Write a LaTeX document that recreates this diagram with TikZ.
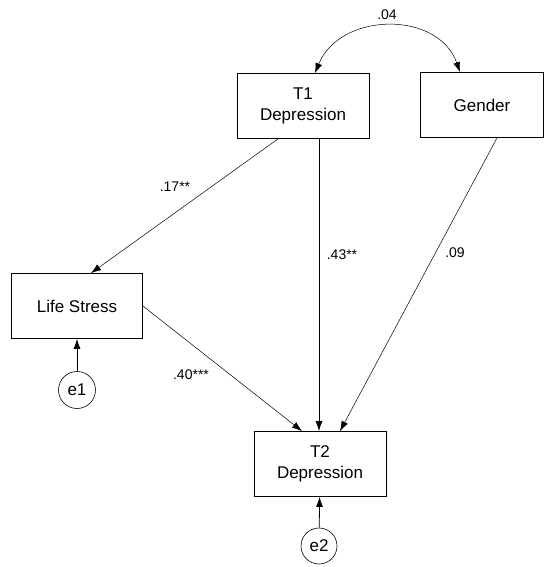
\documentclass[tikz,border=0pt]{standalone}
\usepackage{fontspec}
\setmainfont{Liberation Sans}
\usetikzlibrary{arrows.meta}
\begin{document}
\begin{tikzpicture}[x=1pt,y=-1pt]
	\tikzset{>={Latex[length=10pt,width=7pt]}}
	\tikzset{var/.style={draw,line width=0.8pt,align=center,minimum width=132pt,minimum height=65pt,inner sep=0pt,font=\fontsize{17}{21}\selectfont},
		err/.style={draw,circle,line width=0.6pt,minimum size=37pt,inner sep=0pt,font=\fontsize{17}{21}\selectfont},
		path/.style={->,line width=0.5pt},
		coef/.style={font=\fontsize{14}{16}\selectfont}}
	\useasboundingbox (0,0) rectangle (545,567);
	
	\node[var] (T1) at (303,106) {T1\\Depression};
	\node[var,minimum width=123pt] (G) at (482,105) {Gender};
	\node[var,minimum width=131pt] (LS) at (77,306) {Life Stress};
	\node[var] (T2) at (320,464) {T2\\Depression};
	\node[err] (e1) at (77,390) {e1};
	\node[err,minimum size=36pt] (e2) at (319,546) {e2};

	\draw[<->,line width=0.5pt] ([xshift=12pt]T1.north) .. controls (340,12) and (438,10) .. ([xshift=-22pt]G.north);
	\node[coef] (c04) at (387,15) {.04};

	\draw[path] ([xshift=-25pt]T1.south) -- ([xshift=14pt]LS.north);
	\node[coef] (c17) at (175,187) {.17**};
	\draw[path,line width=0.8pt] ([xshift=16pt]T1.south) -- ([xshift=-1pt]T2.north);
	\node[coef] (c43) at (342,255) {.43**};
	\draw[path] ([xshift=15pt]G.south) -- ([xshift=20pt]T2.north);
	\node[coef] (c09) at (455,253) {.09};
	\draw[path] (LS.east) -- ([xshift=-18pt]T2.north);
	\node[coef] (c40) at (191,375) {.40***};

	\draw[path,line width=0.8pt] (e1) -- (LS);
	\draw[path,line width=0.8pt] (e2) -- (T2);
\end{tikzpicture}
\end{document}
